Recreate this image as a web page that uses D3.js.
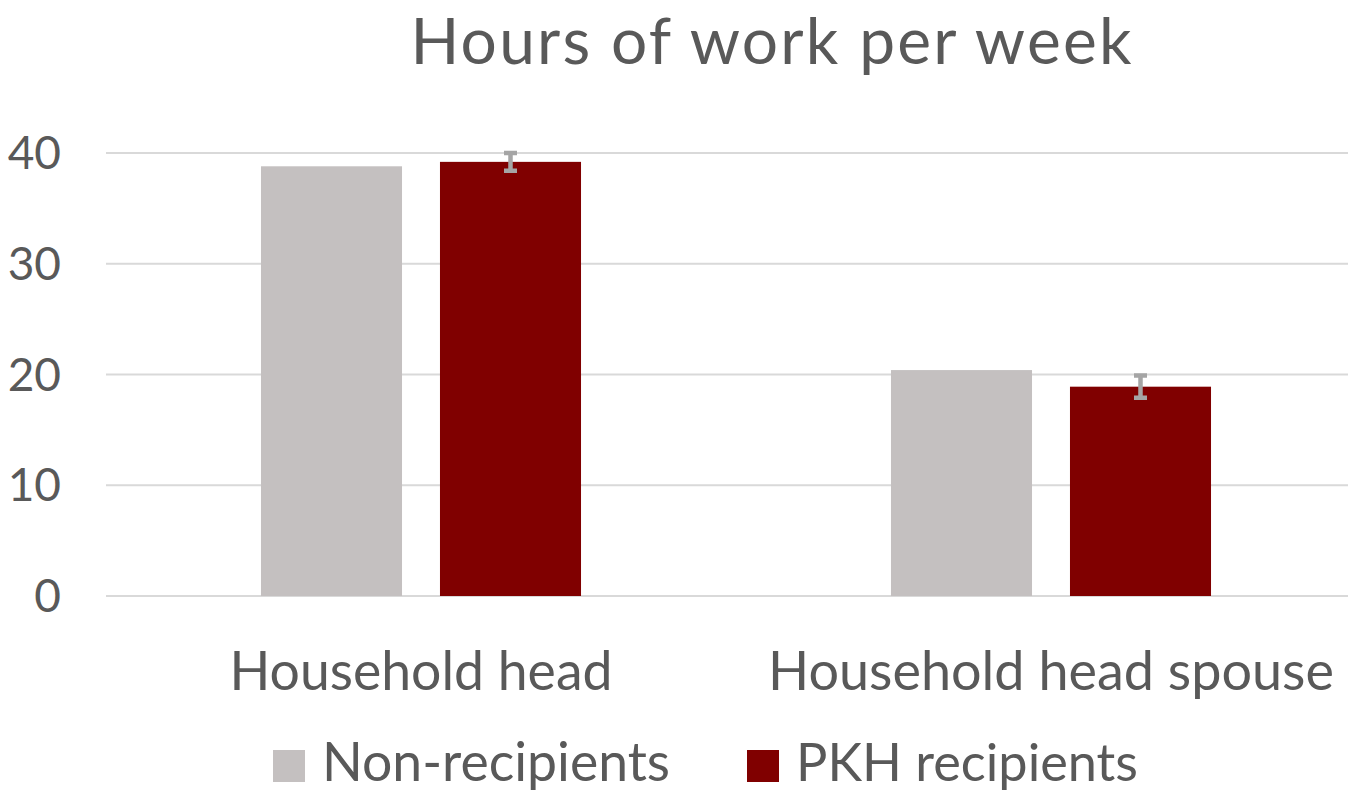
<!DOCTYPE html>
<html><head><meta charset="utf-8">
<script src="https://cdn.jsdelivr.net/npm/d3@7"></script>
<style>body{margin:0;background:#fff}svg{display:block}text{font-family:Lato,"Open Sans",sans-serif;fill:#595959}</style>
</head><body><svg id="c" width="1348" height="791"></svg>
<script>
const categories = ["Household head", "Household head spouse"];
const series = ["Non-recipients", "PKH recipients"];
const nonRecipients = [38.8, 20.4];
const pkhRecipients = [39.2, 18.9];
const pkhError = [0.8, 1.0];
const yTicks = [0, 10, 20, 30, 40];
const title = "Hours of work per week";

const colors = {"Non-recipients": "#C4C0C0", "PKH recipients": "#800000"};
const svg = d3.select("#c");
const W = 1348;

const y = d3.scaleLinear().domain([0, 40]).range([596, 153]);
const x0 = d3.scaleBand().domain(categories).range([106, 1366]).paddingInner(0.492).paddingOuter(0.246);
const x1 = d3.scaleBand().domain(series).range([0, x0.bandwidth()]).paddingInner(0.212);

function fit(sel, target) {
  sel.each(function(){
    const n = this; const fs = parseFloat(n.getAttribute("font-size"));
    const w = n.getComputedTextLength();
    n.setAttribute("font-size", (fs * target / w).toFixed(2));
  });
}

// grid
svg.append("g").selectAll("line").data(yTicks).join("line")
  .attr("x1", 106).attr("x2", W).attr("y1", d => y(d)).attr("y2", d => y(d))
  .attr("stroke", "#D9D9D9").attr("stroke-width", 2);

// y labels
svg.append("g").selectAll("text").data(yTicks).join("text")
  .attr("x", 61).attr("y", d => y(d) + 16).attr("text-anchor", "end")
  .attr("font-size", 46).text(d => d);

// bars
const rows = categories.map((c, i) => ({c, vals: [
  {s: series[0], v: nonRecipients[i], e: null},
  {s: series[1], v: pkhRecipients[i], e: pkhError[i]}]}));
const g = svg.append("g").selectAll("g").data(rows).join("g")
  .attr("transform", d => `translate(${x0(d.c)},0)`);
g.selectAll("rect").data(d => d.vals).join("rect")
  .attr("x", d => x1(d.s)).attr("width", x1.bandwidth())
  .attr("y", d => y(d.v)).attr("height", d => y(0) - y(d.v))
  .attr("fill", d => colors[d.s]);
// error bars
const eb = g.selectAll("g.err").data(d => d.vals.filter(v => v.e != null)).join("g").attr("class", "err");
eb.append("path")
  .attr("d", d => {
    const cx = x1(d.s) + x1.bandwidth() / 2, t = y(d.v + d.e), b = y(d.v - d.e);
    return `M${cx},${t}V${b}M${cx-6.5},${t}H${cx+6.5}M${cx-6.5},${b}H${cx+6.5}`;
  })
  .attr("fill", "none").attr("stroke", "#A5A5A5").attr("stroke-width", 4.5);

// title
svg.append("text").attr("x", 771).attr("y", 64).attr("text-anchor", "middle")
  .attr("font-size", 64).attr("textLength", 721).attr("lengthAdjust", "spacing").text(title);

// category labels
const catW = [383, 566];
svg.append("g").selectAll("text").data(categories).join("text")
  .attr("x", d => x0(d) + x0.bandwidth() / 2).attr("y", 690).attr("text-anchor", "middle")
  .attr("font-size", 48).text(d => d).each(function(d, i){ d3.select(this).call(fit, catW[i]); });

// legend
const legX = [273, 747], legW = [348, 342];
const lg = svg.append("g").selectAll("g").data(series).join("g");
lg.append("rect").attr("x", (d, i) => legX[i]).attr("y", 750).attr("width", 32).attr("height", 32)
  .attr("fill", d => colors[d]);
lg.append("text").attr("x", (d, i) => legX[i] + 49).attr("y", 781).attr("font-size", 48)
  .text(d => d).each(function(d, i){ d3.select(this).call(fit, legW[i]); });
</script></body></html>
